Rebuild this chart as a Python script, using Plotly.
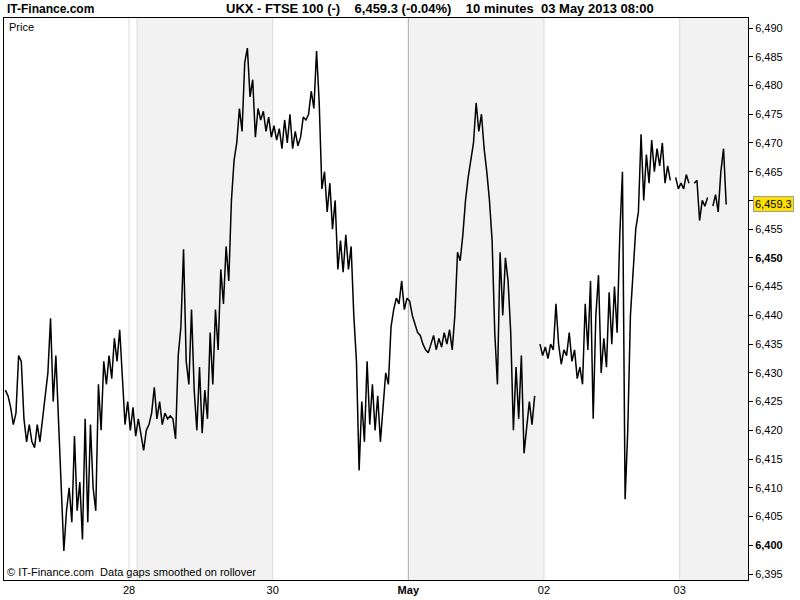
import plotly.graph_objects as go

# 10-minute bars, FTSE 100 (UKX), 26 Apr - 03 May 2013
day26 = [6427, 6426, 6424, 6421, 6423, 6433, 6432, 6422, 6418, 6421, 6418, 6417, 6421, 6418, 6422,
         6426, 6430, 6439.5, 6425, 6433, 6422, 6408, 6399, 6406, 6410, 6404, 6419, 6406, 6411, 6401,
         6422, 6404, 6421, 6410, 6406, 6428, 6420, 6432, 6428, 6433, 6429, 6436, 6432, 6437.5, 6430,
         6421, 6425]
day28 = [6420, 6424, 6419]
day29 = [6422, 6419, 6416.5, 6420, 6421, 6423, 6427.5, 6422, 6425, 6421, 6423, 6422, 6422.5, 6422,
         6418.5, 6433, 6438, 6451.5, 6432, 6428, 6441, 6427, 6420, 6431, 6419.5, 6427, 6422, 6437,
         6428, 6441, 6434, 6448, 6442, 6452, 6446, 6460, 6467, 6470, 6476, 6472, 6484, 6486.5, 6478,
         6481, 6471, 6476, 6474, 6475.5, 6472, 6474.5, 6471]
day30 = [6473, 6470.5, 6472.5, 6469, 6474, 6470, 6475, 6469, 6472, 6469.5, 6471, 6474.5, 6474, 6475,
         6479, 6476, 6486, 6477, 6462, 6465, 6458, 6463, 6455, 6460, 6448, 6453, 6447.5, 6454, 6448,
         6452, 6440, 6432, 6413, 6425, 6418, 6432, 6421, 6428, 6420, 6426, 6418, 6424, 6430, 6428,
         6438, 6441, 6443, 6442, 6446, 6441, 6443]
may01 = [6442.5, 6440, 6438.5, 6437, 6436.5, 6435, 6434, 6433.5, 6435, 6436.5, 6434, 6436, 6434.5,
         6437, 6435, 6437.5, 6434, 6440, 6451, 6449.5, 6454, 6460, 6464, 6467, 6470, 6477, 6472, 6475,
         6469, 6465, 6460, 6453, 6437, 6428, 6451, 6440, 6450, 6446, 6437, 6420, 6431, 6422, 6433,
         6416, 6421, 6425, 6421, 6426, None, 6435, 6433]
may02 = [6434.5, 6432.5, 6435, 6434, 6442, 6435, 6431.5, 6434, 6433, 6437, 6432, 6434, 6429, 6431,
         6428, 6442, 6434, 6446, 6422, 6440, 6447, 6430, 6436, 6431, 6444, 6435, 6445, 6437, 6454,
         6465, 6408, 6420, 6440, 6447, 6455, 6458, 6471.5, 6460, 6468, 6463, 6470.5, 6465, 6469, 6466,
         6470, 6463, 6466, 6463.5, None, 6464, 6462]
may03 = [6463, 6462, 6464.5, 6463, None, 6463, 6463.5, 6456.5, 6460, 6459, 6460.5, None, 6459, 6461,
         6458, 6465, 6469, 6459.3]

sessions = [day26, day28, day29, day30, may01, may02, may03]
session_labels = ["", "28", "", "30", "<b>May</b>", "02", "03"]
shaded_sessions = [2, 4, 6]

last_price = 6459.3
y_ticks = list(range(6395, 6491, 5))

prices = []
starts = []
for s in sessions:
    starts.append(len(prices))
    prices.extend(s)
bars = list(range(len(prices)))
x_end = 279.2

fig = go.Figure()
fig.add_trace(go.Scatter(x=bars, y=prices, mode="lines",
                         line=dict(color="#000000", width=1.5),
                         connectgaps=False, hoverinfo="skip", showlegend=False))

# session shading
for k in shaded_sessions:
    x0 = starts[k] - 0.5
    x1 = (starts[k + 1] - 0.5) if k + 1 < len(starts) else x_end
    fig.add_shape(type="rect", xref="x", yref="paper", x0=x0, x1=x1, y0=0, y1=1,
                  fillcolor="#f2f2f2", line_width=0, layer="below")
# session lines
for k in range(1, len(starts)):
    col = "#a8a8a8" if "May" in session_labels[k] else "#dcdcdc"
    fig.add_shape(type="line", xref="x", yref="paper", x0=starts[k] - 0.5, x1=starts[k] - 0.5,
                  y0=0, y1=1, line=dict(color=col, width=1), layer="below")

tickvals = [starts[k] - 0.5 for k in range(len(starts)) if session_labels[k]]
ticktext = [session_labels[k] for k in range(len(starts)) if session_labels[k]]

ytext = []
for v in y_ticks:
    t = f"{v:,}"
    if abs(v - last_price) < 2:
        t = ""
    elif v % 50 == 0:
        t = f"<b>{t}</b>"
    ytext.append(t)

fig.update_layout(
    width=800, height=600,
    margin=dict(l=4, r=52, t=18, b=20),
    paper_bgcolor="white", plot_bgcolor="white",
    font=dict(family="Liberation Sans, Arial, sans-serif", size=11, color="#000000"),
    xaxis=dict(range=[-0.5, x_end], tickvals=tickvals, ticktext=ticktext, showgrid=False,
               zeroline=False, showline=True, linecolor="#000000", linewidth=1, mirror=True,
               ticks="", tickfont=dict(size=11)),
    yaxis=dict(range=[6393.96, 6491.74], side="right", tickvals=y_ticks, ticktext=ytext,
               showgrid=False, zeroline=False, showline=True, linecolor="#000000", linewidth=1,
               mirror=True, ticks="outside", ticklen=4, tickcolor="#000000",
               tickfont=dict(size=11, color="#000000")),
)

hdr_font = dict(family="Liberation Sans, Arial, sans-serif", size=12, color="#000000")
fig.add_annotation(xref="paper", yref="paper", x=0.002, y=1.0, xanchor="left", yanchor="bottom",
                   yshift=0, text="<b>IT-Finance.com</b>", showarrow=False, font=hdr_font)
fig.add_annotation(xref="paper", yref="paper", x=0.586, y=1.0, xanchor="center", yanchor="bottom",
                   yshift=0,
                   text="<b>UKX - FTSE 100 (-)    6,459.3 (-0.04%)    10 minutes  03 May 2013 08:00</b>",
                   showarrow=False,
                   font=dict(family="Liberation Sans, Arial, sans-serif", size=13, color="#000000"))
fig.add_annotation(xref="paper", yref="paper", x=0.004, y=0.999, xanchor="left", yanchor="top",
                   text="Price", showarrow=False, font=dict(size=11))
fig.add_annotation(xref="paper", yref="paper", x=0.001, y=0.0, xanchor="left", yanchor="bottom",
                   text="© IT-Finance.com  Data gaps smoothed on rollover", showarrow=False,
                   font=dict(size=11))
fig.add_annotation(xref="paper", yref="y", x=1.0, y=last_price, xanchor="left", yanchor="middle",
                   xshift=5, text=f"{last_price:,.1f}", showarrow=False, bgcolor="#ffe100",
                   bordercolor="#a0a0a0", borderwidth=1, borderpad=1, font=dict(size=11))

fig.write_html("out.html", config={"displayModeBar": False},
               post_script="document.body.style.margin='0px';")
